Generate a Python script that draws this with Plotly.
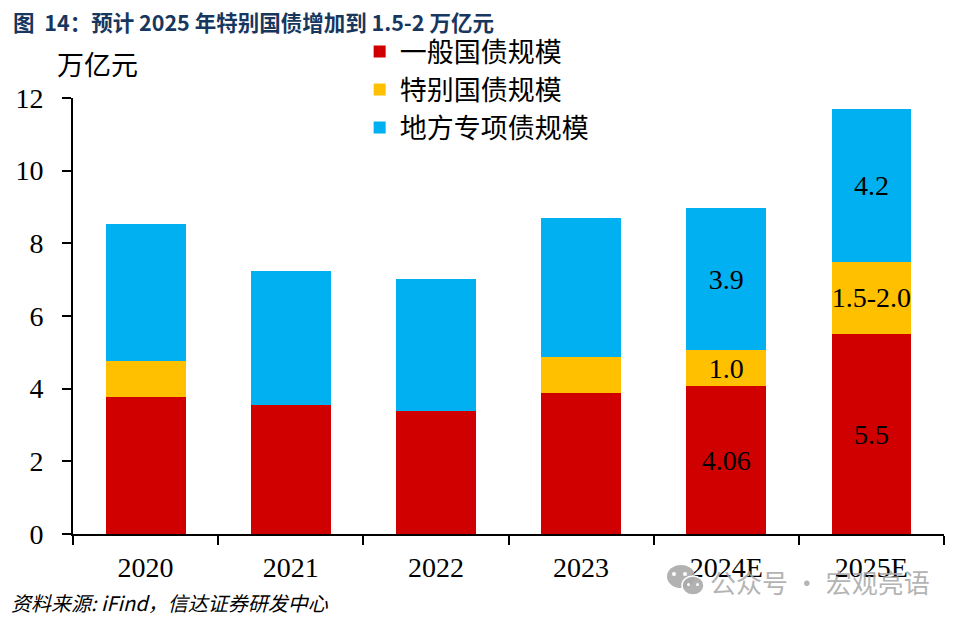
import plotly.graph_objects as go

# Data
years = ["2020", "2021", "2022", "2023", "2024E", "2025E"]
general = [3.77, 3.55, 3.39, 3.88, 4.06, 5.5]
special = [1.0, 0, 0, 1.0, 1.0, 2.0]
local = [3.76, 3.69, 3.63, 3.82, 3.9, 4.2]

general_text = ["", "", "", "", "4.06", "5.5"]
special_text = ["", "", "", "", "1.0", "1.5-2.0"]
local_text = ["", "", "", "", "3.9", "4.2"]

yticks = [0, 2, 4, 6, 8, 10, 12]

SERIF = "Liberation Serif"
CJK = "Noto Sans CJK SC"
WATERMARK = "rgba(170,170,170,0.9)"

fig = go.Figure()

for name, vals, labels, color in [
    ("一般国债规模", general, general_text, "#D00000"),
    ("特别国债规模", special, special_text, "#FFC000"),
    ("地方专项债规模", local, local_text, "#00B0F0"),
]:
    fig.add_trace(go.Bar(
        x=years,
        y=vals,
        name=name,
        marker=dict(color=color, line=dict(width=0)),
        text=labels,
        textposition="inside",
        insidetextanchor="middle",
        textangle=0,
        constraintext="none",
        insidetextfont=dict(family=SERIF, size=28, color="#000000"),
        hoverinfo="skip",
    ))

fig.update_layout(
    width=952,
    height=612,
    barmode="stack",
    bargap=0.45,
    plot_bgcolor="white",
    paper_bgcolor="white",
    margin=dict(l=65, r=16, t=90, b=86, autoexpand=False),
    font=dict(family=SERIF, color="#000000"),
    legend=dict(
        x=0.3291, xanchor="left",
        y=1.162, yanchor="top",
        bgcolor="rgba(0,0,0,0)",
        traceorder="normal",
        font=dict(family=CJK, size=27, color="#000000"),
    ),
    xaxis=dict(
        tickson="boundaries",
        ticks="outside",
        ticklen=9,
        tickwidth=2,
        tickcolor="#000000",
        showline=True,
        linecolor="#000000",
        linewidth=2,
        showgrid=False,
        ticklabelstandoff=7,
        tickfont=dict(family=SERIF, size=28),
    ),
    yaxis=dict(
        range=[0, 12],
        tickvals=yticks,
        ticks="outside",
        ticklen=9,
        tickwidth=2,
        tickcolor="#000000",
        showline=True,
        linecolor="#000000",
        linewidth=2,
        showgrid=False,
        zeroline=False,
        ticklabelstandoff=13,
        tickfont=dict(family=SERIF, size=28),
    ),
)

# title, unit, source, watermark
fig.add_annotation(text="<b>图  14：预计 2025 年特别国债增加到 1.5-2 万亿元</b>", xref="paper", yref="paper",
                   x=-0.0713, y=1.175, xanchor="left", yanchor="middle", showarrow=False,
                   font=dict(family=CJK, size=21.5, color="#17375E"))
fig.add_annotation(text="万亿元", xref="paper", yref="paper",
                   x=-0.0207, y=1.08, xanchor="left", yanchor="middle", showarrow=False,
                   font=dict(family=CJK, size=27, color="#000000"))
fig.add_annotation(text="<i>资料来源: iFind，信达证券研发中心</i>", xref="paper", yref="paper",
                   x=-0.0733, y=-0.158, xanchor="left", yanchor="middle", showarrow=False,
                   font=dict(family=CJK, size=20, color="#000000"))
fig.add_annotation(text="公众号 · 宏观亮语", xref="paper", yref="paper",
                   x=0.9862, y=-0.108, xanchor="right", yanchor="middle", showarrow=False,
                   font=dict(family=CJK, size=26, color=WATERMARK))


# wechat icon of the watermark, placed in page pixels
def px_x(v):
    return (v - 73) / 871


def px_y(v):
    return (534 - v) / 436


for x0, x1, y0, y1, fill, border in [
    (667, 695, 565, 588, WATERMARK, 0),
    (682, 704, 576, 595, WATERMARK, 1.5),
    (672, 676, 572, 576, "white", 0),
    (683, 687, 572, 576, "white", 0),
    (687, 690, 583, 586, "white", 0),
    (696, 699, 583, 586, "white", 0),
]:
    fig.add_shape(type="circle", xref="paper", yref="paper",
                  x0=px_x(x0), x1=px_x(x1), y0=px_y(y1), y1=px_y(y0),
                  fillcolor=fill, line=dict(color="white", width=border))

fig.write_html("out.html")
